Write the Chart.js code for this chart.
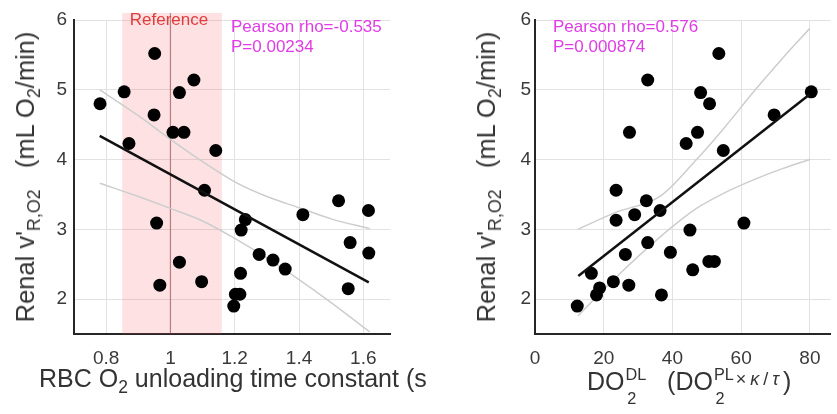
<!DOCTYPE html>
<html>
<head>
<meta charset="utf-8">
<script src="https://cdn.jsdelivr.net/npm/chart.js@4.4.1/dist/chart.umd.min.js"></script>
<style>
  body { margin: 0; background: #fff; }
  #wrap { position: relative; width: 837px; height: 414px; overflow: hidden;
          font-family: "Liberation Sans", Arial, sans-serif; color: #333; }
  .box { position: absolute; top: 0; height: 414px; background: #fff; }
  #leftBox { left: 0; width: 427px; z-index: 1; }
  #rightBox { left: 427px; width: 410px; z-index: 3; }
  .txt { position: absolute; white-space: nowrap; }
  .ytitle { font-size: 25.5px; line-height: 26px; transform: translate(-50%, -50%) rotate(-90deg); }
  .xtitle { font-size: 25px; line-height: 25px; }
  sub { font-size: 70%; vertical-align: -0.35em; line-height: 0; }
  .ss { position: relative; display: inline-block; font-size: 0.65em; vertical-align: 0.62em; line-height: 1; margin-left: 1px; }
  .ss .dn { position: absolute; left: 0.1em; top: 1.45em; }
  .small { font-size: 0.72em; vertical-align: 0.28em; letter-spacing: 0.22em; margin-left: 2px; }
  .note { font-size: 17px; line-height: 20px; color: #e03ce6; }
</style>
</head>
<body>
<div id="wrap">
  <div class="box" id="leftBox"><canvas id="leftChart"></canvas></div>
  <div class="txt ytitle" style="left:25px; top:177px; z-index:2">Renal v'<sub>R,O2</sub>&nbsp;&nbsp;&nbsp;(mL O<sub>2</sub>/min)</div>
  <div class="txt xtitle" style="left:39px; top:366px; z-index:2">RBC O<sub>2</sub> unloading time constant (s)</div>
  <div class="txt" style="left:169px; top:11px; z-index:2; transform:translateX(-50%); font-size:17px; line-height:17px; color:#e03c3c">Reference</div>
  <div class="txt note" style="left:231px; top:17px; z-index:2">Pearson rho=-0.535<br>P=0.00234</div>

  <div class="box" id="rightBox"><canvas id="rightChart"></canvas></div>
  <div class="txt ytitle" style="left:486px; top:177px; z-index:4">Renal v'<sub>R,O2</sub>&nbsp;&nbsp;&nbsp;(mL O<sub>2</sub>/min)</div>
  <div class="txt xtitle" style="left:587px; top:366px; z-index:4">DO<span class="ss"><span>DL</span><span class="dn">2</span></span>&nbsp;&nbsp;&nbsp;(DO<span class="ss"><span>PL</span><span class="dn">2</span></span><span class="small">×<i>κ</i>/<i>τ</i></span>)</div>
  <div class="txt note" style="left:553px; top:17px; z-index:4">Pearson rho=0.576<br>P=0.000874</div>
</div>

<script>
// left panel: RBC O2 unloading time constant (s) vs renal VO2
const tauX = [0.781, 0.856, 0.871, 0.951, 0.949, 0.957, 0.967, 1.008, 1.028, 1.042,
              1.073, 1.028, 1.097, 1.106, 1.141, 1.197, 1.202, 1.216, 1.218, 1.220,
              1.233, 1.276, 1.319, 1.357, 1.412, 1.523, 1.553, 1.559, 1.616, 1.617];
const tauY = [4.80, 4.97, 4.23, 5.52, 4.64, 3.09, 2.20, 4.39, 4.96, 4.39,
              5.14, 2.53, 2.25, 3.56, 4.13, 1.90, 2.07, 2.07, 2.37, 2.99,
              3.14, 2.64, 2.56, 2.43, 3.21, 3.41, 2.15, 2.81, 3.27, 2.66];
const tauFitX = [0.78, 1.617];
const tauFitY = [4.34, 2.24];
const tauBandX = [0.78, 0.9, 1.0, 1.1, 1.2, 1.3, 1.4, 1.5, 1.62];
const tauUpper = [5.00, 4.63, 4.29, 3.97, 3.68, 3.47, 3.31, 3.15, 3.01];
const tauLower = [3.66, 3.47, 3.30, 3.12, 2.87, 2.59, 2.28, 1.95, 1.53];
const tauTicks = [0.8, 1, 1.2, 1.4, 1.6];
const refLow = 0.85, refHigh = 1.16, refMid = 1.0;

// right panel: DO2 (DL) vs renal VO2
const doX = [12.3, 16.4, 17.9, 18.8, 22.8, 23.6, 23.6, 26.3, 27.3, 27.5,
             29.0, 32.4, 32.8, 32.8, 36.4, 36.8, 39.4, 44.0, 45.1, 45.9,
             47.3, 48.2, 50.8, 50.6, 52.2, 53.5, 54.8, 60.8, 69.6, 80.4];
const doY = [1.90, 2.37, 2.06, 2.16, 2.25, 3.56, 3.13, 2.64, 2.20, 4.39,
             3.21, 3.41, 5.14, 2.81, 3.27, 2.06, 2.67, 4.23, 2.99, 2.42,
             4.39, 4.96, 4.80, 2.54, 2.54, 5.52, 4.13, 3.09, 4.64, 4.97];
const doFitX = [12.6, 79.8];
const doFitY = [2.33, 4.93];
const doBandX = [12.5, 23.3, 36.6, 47.0, 55.0, 64.1, 72.0, 80.0];
const doUpper = [3.00, 3.24, 3.48, 4.00, 4.45, 5.00, 5.45, 5.88];
const doLower = [1.76, 2.30, 2.90, 3.30, 3.52, 3.72, 3.87, 4.00];
const doTicks = [0, 20, 40, 60, 80];

const yTicks = [2, 3, 4, 5, 6];

const FONT = { family: '"Liberation Sans", Arial, sans-serif', size: 19 };

function pairs(xs, ys) {
    return xs.map((x, i) => ({ x: x, y: ys[i] }));
}

// pink reference window with its centre line
const refShade = {
    id: 'refShade',
    beforeDatasetsDraw(chart) {
        const { ctx, chartArea, scales } = chart;
        const x1 = scales.x.getPixelForValue(refLow);
        const x2 = scales.x.getPixelForValue(refHigh);
        const xm = scales.x.getPixelForValue(refMid);
        ctx.save();
        ctx.fillStyle = 'rgba(245, 80, 90, 0.17)';
        ctx.fillRect(x1, chartArea.top - 7, x2 - x1, chartArea.bottom - chartArea.top + 7);
        ctx.strokeStyle = 'rgba(150, 60, 60, 0.55)';
        ctx.lineWidth = 1.2;
        ctx.beginPath();
        ctx.moveTo(xm, chartArea.top - 7);
        ctx.lineTo(xm, chartArea.bottom);
        ctx.stroke();
        ctx.restore();
    }
};

function makeChart(id, cfg) {
    const bandStyle = { showLine: true, pointRadius: 0, borderColor: '#cdcdcd',
                        borderWidth: 1.5, tension: 0.4, cubicInterpolationMode: 'monotone' };
    return new Chart(document.getElementById(id), {
        type: 'scatter',
        data: {
            datasets: [
                { data: pairs(cfg.fitX, cfg.fitY), showLine: true, pointRadius: 0,
                  borderColor: '#111', borderWidth: 2.5 },
                { data: pairs(cfg.xs, cfg.ys), pointRadius: 6.5, pointHoverRadius: 6.5,
                  backgroundColor: '#000', borderColor: '#000', borderWidth: 0 },
                Object.assign({ data: pairs(cfg.bandX, cfg.upper) }, bandStyle),
                Object.assign({ data: pairs(cfg.bandX, cfg.lower) }, bandStyle)
            ]
        },
        options: {
            responsive: true,
            maintainAspectRatio: false,
            animation: false,
            layout: { padding: { top: 20, right: cfg.padRight, left: 0, bottom: 0 } },
            plugins: { legend: { display: false }, tooltip: { enabled: false } },
            scales: {
                x: {
                    type: 'linear', min: cfg.xMin, max: cfg.xMax,
                    afterBuildTicks: s => { s.ticks = cfg.xTicks.map(v => ({ value: v })); },
                    afterFit: s => { s.height = 80; },
                    grid: { color: '#e2e2e2', drawTicks: false },
                    border: { color: '#262626', width: 2 },
                    ticks: { font: FONT, color: '#3a3a3a', padding: 13, maxRotation: 0,
                             callback: v => String(v) }
                },
                y: {
                    type: 'linear', min: 1.5, max: 6,
                    afterBuildTicks: s => { s.ticks = yTicks.map(v => ({ value: v })); },
                    afterFit: s => { s.width = cfg.yWidth; },
                    grid: { color: '#e2e2e2', drawTicks: false },
                    border: { color: '#262626', width: 2 },
                    ticks: { font: FONT, color: '#3a3a3a', padding: cfg.yPad }
                }
            }
        },
        plugins: cfg.plugins || []
    });
}

makeChart('leftChart', {
    xs: tauX, ys: tauY, fitX: tauFitX, fitY: tauFitY,
    bandX: tauBandX, upper: tauUpper, lower: tauLower,
    xMin: 0.7, xMax: 1.683, xTicks: tauTicks,
    yWidth: 74, yPad: 7, padRight: 37, plugins: [refShade]
});

makeChart('rightChart', {
    xs: doX, ys: doY, fitX: doFitX, fitY: doFitY,
    bandX: doBandX, upper: doUpper, lower: doLower,
    xMin: 0, xMax: 86, xTicks: doTicks,
    yWidth: 108, yPad: 4, padRight: 0
});
</script>
</body>
</html>
